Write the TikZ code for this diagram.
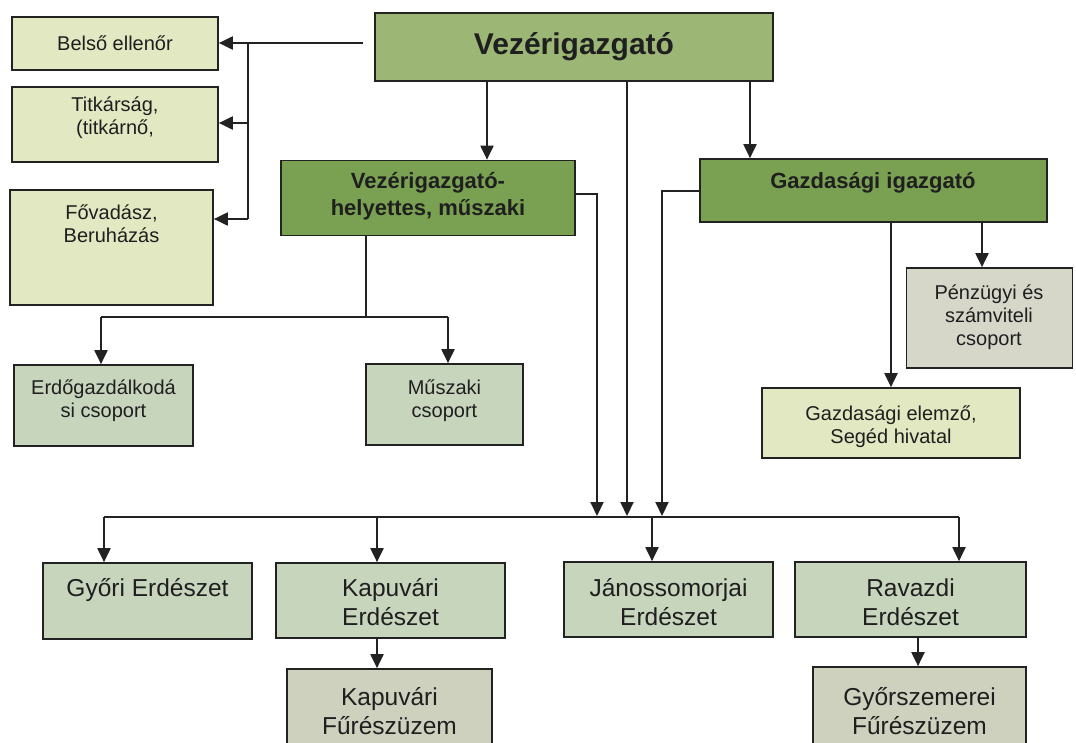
\documentclass[tikz,border=0pt]{standalone}
\usepackage{fontspec}
\setmainfont{Liberation Sans}
\usetikzlibrary{arrows.meta}
\definecolor{topg}{RGB}{156,182,118}
\definecolor{darkg}{RGB}{122,161,82}
\definecolor{paley}{RGB}{226,232,194}
\definecolor{greyg}{RGB}{199,213,189}
\definecolor{greyb}{RGB}{214,215,201}
\definecolor{greyk}{RGB}{205,209,190}
\definecolor{linec}{RGB}{34,34,34}
\begin{document}
\begin{tikzpicture}[x=1pt,y=-1pt,
  box/.style={draw=linec, line width=1.7pt, rectangle, inner sep=0pt},
  ln/.style={draw=linec, line width=2pt},
  arr/.style={draw=linec, line width=2pt, -{Triangle[width=13pt,length=14pt]}},
  lbl/.style={align=center, inner sep=0pt, text=black!88},
  t20/.style={lbl, font=\fontsize{20}{23}\selectfont},
  t24/.style={lbl, font=\fontsize{24.5}{29}\selectfont},
  b22/.style={lbl, font=\bfseries\fontsize{22}{27}\selectfont},
  b30/.style={lbl, font=\bfseries\fontsize{30}{36}\selectfont}]
\useasboundingbox (0,0) rectangle (1076,742);
\clip (0,0) rectangle (1076,742);
\fill[white] (0,0) rectangle (1076,742);

% boxes
\node[box, fill=topg,  minimum width=398, minimum height=68] (top)   at (574,47) {};
\node[box, fill=paley, minimum width=206, minimum height=53] (belso) at (115,43.5) {};
\node[box, fill=paley, minimum width=206, minimum height=75] (titk)  at (115,124.5) {};
\node[box, fill=paley, minimum width=203, minimum height=115] (fovad) at (111.5,247.5) {};
\node[box, fill=darkg, minimum width=294, minimum height=75] (vh)    at (428,198) {};
\node[box, fill=darkg, minimum width=347, minimum height=63] (gazd)  at (873.5,190.5) {};
\node[box, fill=greyb, minimum width=166, minimum height=100] (penz) at (989.5,318) {};
\node[box, fill=paley, minimum width=258, minimum height=70] (gelem) at (891,423) {};
\node[box, fill=greyg, minimum width=179, minimum height=81] (erdo)  at (103.5,405.5) {};
\node[box, fill=greyg, minimum width=157, minimum height=81] (musz)  at (444.5,404.5) {};
\node[box, fill=greyg, minimum width=209, minimum height=76] (gyori) at (147.5,601) {};
\node[box, fill=greyg, minimum width=229, minimum height=75] (kapu)  at (390.5,600.5) {};
\node[box, fill=greyg, minimum width=209, minimum height=75] (jano)  at (668.5,599.5) {};
\node[box, fill=greyg, minimum width=231, minimum height=75] (rava)  at (910.5,599.5) {};
\node[box, fill=greyk, minimum width=205, minimum height=91] (kfur)  at (389.5,714.5) {};
\node[box, fill=greyk, minimum width=213, minimum height=93] (gyfur) at (919.5,713.5) {};

% texts
\node[b30] (ttop)   at (574,47) {Vezérigazgató};
\node[t20] (tbelso) at (115,43) {Belső ellenőr};
\node[t20] (ttitk)  at (115,118) {Titkárság,\\(titkárnő,};
\node[t20] (tfovad) at (111.5,224) {Fővadász,\\Beruházás};
\node[b22] (tvh)    at (428,196.5) {Vezérigazgató-\\helyettes, műszaki};
\node[b22] (tgazd)  at (873,183) {Gazdasági igazgató};
\node[t20] (tpenz)  at (989,317) {Pénzügyi és\\számviteli\\csoport};
\node[t20] (tgelem) at (891,427) {Gazdasági elemző,\\Segéd hivatal};
\node[t20] (terdo)  at (103.5,401) {Erdőgazdálkodá\\si csoport};
\node[t20] (tmusz)  at (444.5,401) {Műszaki\\csoport};
\node[t24] (tgyori) at (147.5,590) {Győri Erdészet};
\node[t24] (tkapu)  at (390.5,602) {Kapuvári\\Erdészet};
\node[t24] (tjano)  at (668.5,602) {Jánossomorjai\\Erdészet};
\node[t24] (trava)  at (910.5,602) {Ravazdi\\Erdészet};
\node[t24] (tkfur)  at (389.5,711) {Kapuvári\\Fűrészüzem};
\node[t24] (tgyfur) at (919.5,711) {Győrszemerei\\Fűrészüzem};

% helper coordinates
\coordinate (c0) at (363,43);
\coordinate (j1) at (248,43);
\coordinate (j2) at (248,123);
\coordinate (j3) at (248,219);
\coordinate (xa) at (487,0);
\coordinate (xb) at (750,0);
\coordinate (xc) at (627,0);
\coordinate (xd) at (597,0);
\coordinate (xe) at (662,0);
\coordinate (bus) at (0,517);
\coordinate (xg) at (104,0);
\coordinate (xk) at (377,0);
\coordinate (xj) at (652,0);
\coordinate (xr) at (959,0);
\coordinate (xs) at (918,0);
\coordinate (xv) at (366,0);
\coordinate (vb) at (0,317);
\coordinate (xm1) at (101,0);
\coordinate (xm2) at (448,0);
\coordinate (xge) at (891,0);
\coordinate (xp) at (982,0);
\coordinate (vhy) at (0,194);

% staff connectors
\draw[arr] (c0) -- (c0 -| belso.east);
\draw[ln] (j1) -- (j3);
\draw[arr] (j2) -- (j2 -| titk.east);
\draw[arr] (j3) -- (j3 -| fovad.east);

% from top
\draw[arr] (xa |- top.south) -- (xa |- vh.north);
\draw[arr] (xb |- top.south) -- (xb |- gazd.north);
\draw[arr] (xc |- top.south) -- ([yshift=1pt]xc |- bus);
\draw[arr] (vh.east |- vhy) -| ([yshift=1pt]xd |- bus);
\draw[arr] (gazd.west) -| ([yshift=1pt]xe |- bus);

% deputy
\draw[ln] (xv |- vh.south) -- (xv |- vb);
\draw[ln] (xm1 |- vb) -- (xm2 |- vb);
\draw[arr] (xm1 |- vb) -- (xm1 |- erdo.north);
\draw[arr] (xm2 |- vb) -- (xm2 |- musz.north);

% economic
\draw[arr] (xge |- gazd.south) -- (xge |- gelem.north);
\draw[arr] (xp |- gazd.south) -- (xp |- penz.north);

% bus
\draw[ln] (xg |- bus) -- (xr |- bus);
\draw[arr] (xg |- bus) -- (xg |- gyori.north);
\draw[arr] (xk |- bus) -- (xk |- kapu.north);
\draw[arr] (xj |- bus) -- (xj |- jano.north);
\draw[arr] (xr |- bus) -- (xr |- rava.north);
\draw[arr] (xk |- kapu.south) -- (xk |- kfur.north);
\draw[arr] (xs |- rava.south) -- (xs |- gyfur.north);
\end{tikzpicture}
\end{document}
